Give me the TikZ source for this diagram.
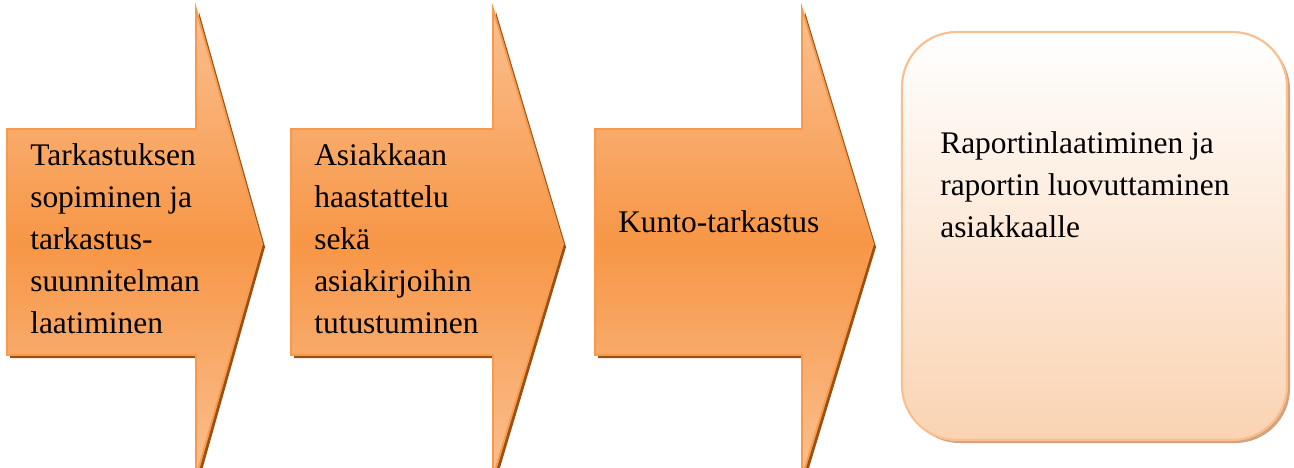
\documentclass[tikz,border=0pt]{standalone}
\usepackage{fontspec}
\setmainfont{Liberation Serif}
\newfontfamily\stepfont{Liberation Serif}

\definecolor{arrowmid}{HTML}{F79646}
\definecolor{arrowlight}{HTML}{FAC090}
\definecolor{arrowedge}{HTML}{F79A4E}
\definecolor{arrowshadow}{HTML}{9C4F10}
\definecolor{boxbottom}{HTML}{FAD3B2}
\definecolor{boxedge}{HTML}{F9BF8F}
\definecolor{boxshadow}{HTML}{D3A27F}

\tikzset{
  arrowbody/.style={top color=arrowlight, bottom color=arrowlight, middle color=arrowmid,
    draw=arrowedge, line width=1.4pt, line join=miter},
  arrowshade/.style={fill=arrowshadow},
  boxbody/.style={top color=white, bottom color=boxbottom, draw=boxedge, line width=1.6pt},
  boxshade/.style={fill=boxshadow},
  steptext/.style={anchor=base west, inner sep=0pt, text=black,
    font=\stepfont\fontsize{23.6pt}{31.5pt}\selectfont},
}

% one process arrow: left edge, shoulder x, tip x
\newcommand\flowarrow[3]{%
  \fill[arrowshade, shift={(3,3)}] (#1,129) -- (#2,129) -- (#2,9) -- (#3,244)
    -- (#2,478) -- (#2,355) -- (#1,355) -- cycle;
  \shade[arrowbody] (#1,129) -- (#2,129) -- (#2,9) -- (#3,244)
    -- (#2,478) -- (#2,355) -- (#1,355) -- cycle;
}

\newcommand\linesof[1]{\begin{tabular}[t]{@{}l@{}}#1\end{tabular}}

\begin{document}
\begin{tikzpicture}[x=0.75pt, y=-0.75pt]
  \useasboundingbox (0,0) rectangle (1294,467);

  \flowarrow{7}{196}{262}
  \flowarrow{291}{493}{563}
  \flowarrow{595}{802}{873}

  % final step: rounded box
  \fill[boxshade, rounded corners=41pt] (905,35) rectangle (1290,443);
  \shade[boxbody, rounded corners=41pt] (902,32) rectangle (1287,440);

  \node[steptext] (s1) at (30,165) {\linesof{Tarkastuksen\\ sopiminen ja\\ tarkastus-\\ suunnitelman\\ laatiminen}};
  \node[steptext] (s2) at (314,165) {\linesof{Asiakkaan\\ haastattelu\\ sekä\\ asiakirjoihin\\ tutustuminen}};
  \node[steptext] (s3) at (618,232) {Kunto-tarkastus};
  \node[steptext] (s4) at (940,153) {\linesof{Raportinlaatiminen ja\\ raportin luovuttaminen\\ asiakkaalle}};
\end{tikzpicture}
\end{document}
